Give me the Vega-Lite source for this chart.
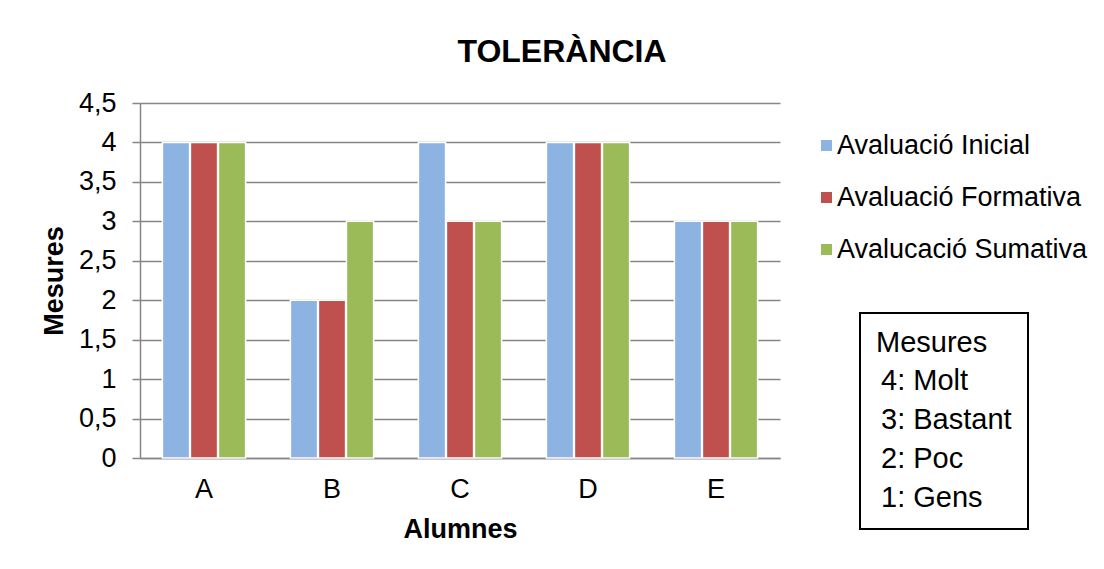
{
  "$schema": "https://vega.github.io/schema/vega-lite/v6.json",
  "width": 640,
  "height": 355,
  "autosize": {"type": "none"},
  "padding": {"left": 140, "top": 103, "right": 324, "bottom": 111},
  "background": "white",
  "title": {
    "text": "TOLERÀNCIA",
    "font": "Liberation Sans",
    "fontSize": 32,
    "fontWeight": "bold",
    "color": "black",
    "anchor": "middle",
    "frame": "group",
    "dx": 102,
    "baseline": "alphabetic",
    "offset": -5
  },
  "datasets": {
    "notes": [
      {"nivell": "4: Molt"},
      {"nivell": "3: Bastant"},
      {"nivell": "2: Poc"},
      {"nivell": "1: Gens"}
    ]
  },
  "data": {
    "values": [
      {"alumne": "A", "avaluacio": "Avaluació Inicial", "mesura": 4},
      {"alumne": "A", "avaluacio": "Avaluació Formativa", "mesura": 4},
      {"alumne": "A", "avaluacio": "Avalucació Sumativa", "mesura": 4},
      {"alumne": "B", "avaluacio": "Avaluació Inicial", "mesura": 2},
      {"alumne": "B", "avaluacio": "Avaluació Formativa", "mesura": 2},
      {"alumne": "B", "avaluacio": "Avalucació Sumativa", "mesura": 3},
      {"alumne": "C", "avaluacio": "Avaluació Inicial", "mesura": 4},
      {"alumne": "C", "avaluacio": "Avaluació Formativa", "mesura": 3},
      {"alumne": "C", "avaluacio": "Avalucació Sumativa", "mesura": 3},
      {"alumne": "D", "avaluacio": "Avaluació Inicial", "mesura": 4},
      {"alumne": "D", "avaluacio": "Avaluació Formativa", "mesura": 4},
      {"alumne": "D", "avaluacio": "Avalucació Sumativa", "mesura": 4},
      {"alumne": "E", "avaluacio": "Avaluació Inicial", "mesura": 3},
      {"alumne": "E", "avaluacio": "Avaluació Formativa", "mesura": 3},
      {"alumne": "E", "avaluacio": "Avalucació Sumativa", "mesura": 3}
    ]
  },
  "layer": [
    {
      "mark": {"type": "bar", "stroke": "white", "strokeWidth": 1.5},
      "encoding": {
        "x": {
          "field": "alumne",
          "type": "nominal",
          "scale": {"paddingInner": 0.35, "paddingOuter": 0.175},
          "axis": {
            "title": "Alumnes",
            "labelAngle": 0,
            "ticks": false,
            "tickSize": 0,
            "labelPadding": 18,
            "titlePadding": 14,
            "grid": false
          }
        },
        "xOffset": {
          "field": "avaluacio",
          "type": "nominal",
          "sort": ["Avaluació Inicial", "Avaluació Formativa", "Avalucació Sumativa"],
          "scale": {"paddingInner": 0.03}
        },
        "y": {
          "field": "mesura",
          "type": "quantitative",
          "scale": {"domain": [0, 4.5], "nice": false},
          "axis": {
            "title": "Mesures",
            "values": [0, 0.5, 1, 1.5, 2, 2.5, 3, 3.5, 4, 4.5],
            "labelExpr": "replace(format(datum.value, '~g'), '.', ',')",
            "tickSize": 8,
            "labelPadding": 16,
            "titlePadding": 10
          }
        },
        "color": {
          "field": "avaluacio",
          "type": "nominal",
          "sort": ["Avaluació Inicial", "Avaluació Formativa", "Avalucació Sumativa"],
          "scale": {
            "domain": ["Avaluació Inicial", "Avaluació Formativa", "Avalucació Sumativa"],
            "range": ["#8db3e2", "#c0504d", "#9bbb59"]
          },
          "legend": {
            "title": null,
            "orient": "none",
            "legendX": 673,
            "legendY": 29,
            "padding": 0,
            "symbolType": "square",
            "symbolSize": 121,
            "symbolStrokeWidth": 0,
            "labelFontSize": 27,
            "labelOffset": -3,
            "labelLimit": 500,
            "rowPadding": 24,
            "labelColor": "black",
            "labelFont": "Liberation Sans"
          }
        }
      }
    },
    {
      "data": {"name": "notes"},
      "mark": {"type": "point", "opacity": 0},
      "encoding": {
        "shape": {
          "field": "nivell",
          "type": "nominal",
          "sort": ["4: Molt", "3: Bastant", "2: Poc", "1: Gens"],
          "legend": {
            "title": "Mesures",
            "orient": "none",
            "legendX": 720,
            "legendY": 210,
            "padding": 16,
            "strokeColor": "black",
            "fillColor": "white",
            "symbolSize": 0,
            "symbolOpacity": 0,
            "symbolStrokeWidth": 0,
            "labelOffset": -24,
            "labelFontSize": 29,
            "labelLimit": 500,
            "labelColor": "black",
            "labelFont": "Liberation Sans",
            "titleFontSize": 29,
            "titleFontWeight": "normal",
            "titleColor": "black",
            "titleFont": "Liberation Sans",
            "titlePadding": 8,
            "rowPadding": 9
          }
        }
      }
    }
  ],
  "config": {
    "font": "Liberation Sans",
    "view": {"stroke": null},
    "legend": {"strokeWidth": 2},
    "axis": {
      "labelFont": "Liberation Sans",
      "labelFontSize": 27,
      "labelColor": "black",
      "titleFont": "Liberation Sans",
      "titleFontSize": 27,
      "titleFontWeight": "bold",
      "titleColor": "black",
      "domainColor": "#868686",
      "domainWidth": 1.5,
      "tickColor": "#868686",
      "tickWidth": 1.5,
      "gridColor": "#868686",
      "gridWidth": 1.5,
      "gridOpacity": 1
    }
  }
}
